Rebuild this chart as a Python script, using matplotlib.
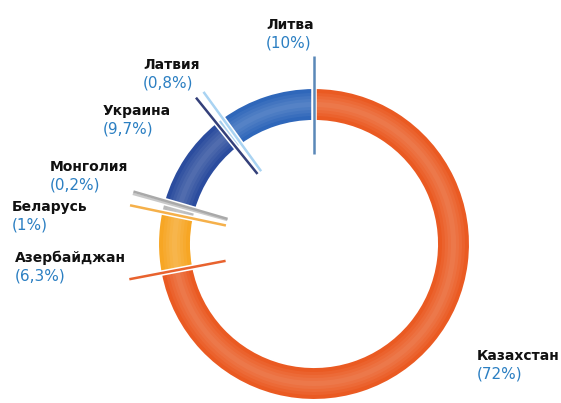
import numpy as np
import matplotlib
matplotlib.use("Agg")
import matplotlib.pyplot as plt

# данные
countries = ["Казахстан", "Азербайджан", "Беларусь", "Монголия", "Украина", "Латвия", "Литва"]
shares = [72, 6.3, 1, 0.2, 9.7, 0.8, 10]
share_labels = ["(72%)", "(6,3%)", "(1%)", "(0,2%)", "(9,7%)", "(0,8%)", "(10%)"]
colors = ["#ea5a22", "#f7a624", "#b9b9b9", "#e2e2e2", "#2b4c9e", "#a3cdee", "#2f67ba"]
line_colors = ["#e8622e", "#f5b04a", "#c9c9c9", "#a9a9a9", "#34407a", "#a9d3f2", "#5a88b8"]

# позиции подписей (в пикселях картинки, сверху вниз)
label_pos = {
    "Казахстан": (477, 356),
    "Азербайджан": (15, 258),
    "Беларусь": (12, 207),
    "Монголия": (50, 167),
    "Украина": (103, 111),
    "Латвия": (143, 65),
    "Литва": (266, 25),
}

W, H = 561, 403
fig = plt.figure(figsize=(W / 100, H / 100), dpi=100)
ax = fig.add_axes([0, 0, 1, 1])

cx, cy = 314, H - 244
R, ring = 156, 33

ax.pie(shares, colors=colors, startangle=90, counterclock=False,
       radius=R, center=(cx, cy),
       wedgeprops=dict(width=ring, edgecolor="white", linewidth=1.5))

# лёгкий объём кольца
for k in range(1, 5):
    ax.pie(shares, colors=["white"] * len(shares), startangle=90, counterclock=False,
           radius=R - 3 * k - 2, center=(cx, cy),
           wedgeprops=dict(width=ring - 6 * k - 4, linewidth=0, alpha=0.05))

# разделительные линии на концах сегментов
ends = np.cumsum(shares) / sum(shares) * 360.0
for ang, lc in zip(ends, line_colors):
    t = np.deg2rad(90 - ang)
    r1, r2 = 90, 188
    xs = [cx + r1 * np.cos(t), cx + r2 * np.cos(t)]
    ys = [cy + r1 * np.sin(t), cy + r2 * np.sin(t)]
    ax.plot(xs, ys, color="white", lw=4, solid_capstyle="butt", zorder=3)
    ax.plot(xs, ys, color=lc, lw=1.8, solid_capstyle="butt", zorder=4)

for name, lab in zip(countries, share_labels):
    x, y = label_pos[name]
    ax.text(x, H - y, name, fontsize=10, fontweight="bold", color="#111111",
            ha="left", va="center")
    ax.text(x, H - y - 18, lab, fontsize=11, color="#2b7fc2",
            ha="left", va="center")

ax.set_xlim(0, W)
ax.set_ylim(0, H)
ax.set_aspect("equal")
ax.axis("off")

fig.savefig("out.png", dpi=100)
